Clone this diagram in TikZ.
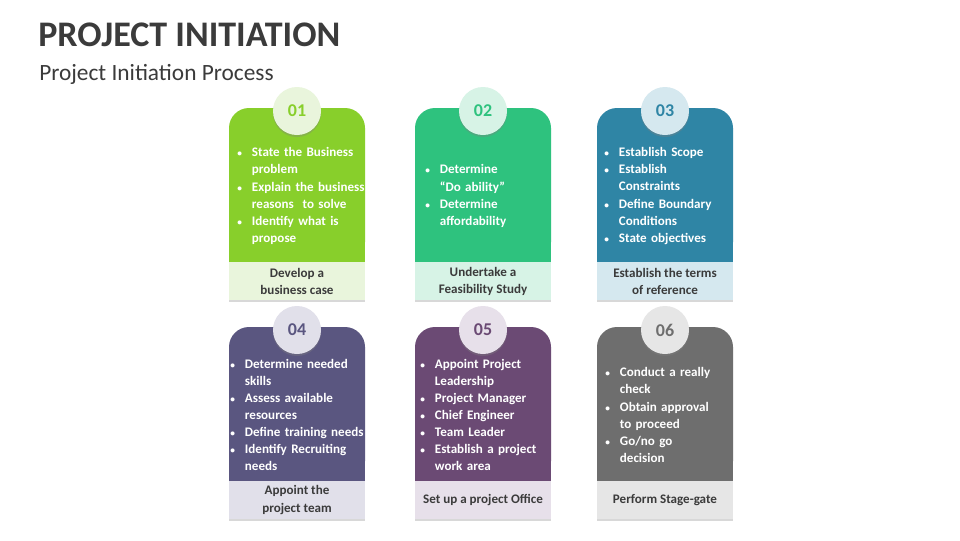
\documentclass[tikz,border=0pt]{standalone}
\usepackage{fontspec}
\setmainfont{Carlito}
\usetikzlibrary{shadows}
\definecolor{cA}{HTML}{88CF2B}\definecolor{lA}{HTML}{E9F5DC}
\definecolor{cB}{HTML}{2EC27E}\definecolor{lB}{HTML}{D7F3E6}
\definecolor{cC}{HTML}{2F85A5}\definecolor{lC}{HTML}{D5E8EF}
\definecolor{cD}{HTML}{5A5680}\definecolor{lD}{HTML}{E1E0EA}
\definecolor{cE}{HTML}{6B4A74}\definecolor{lE}{HTML}{E7E0EA}
\definecolor{cF}{HTML}{6E6E6E}\definecolor{lF}{HTML}{E6E6E6}
\definecolor{ink}{HTML}{3B3B3B}
\tikzset{
 bodytxt/.style={text=white,font=\bfseries\fontsize{9.8}{12.8}\selectfont,align=left,anchor=west,text width=110pt,inner sep=0pt},
 bandtxt/.style={text=ink,font=\bfseries\fontsize{9.8}{12.8}\selectfont,align=center},
 numc/.style={circle,minimum size=36pt,inner sep=0pt,font=\bfseries\fontsize{13.5}{14}\selectfont,drop shadow={opacity=0.35,shadow xshift=0pt,shadow yshift=-1.5pt}},
}
\newcommand{\card}[9]{% x, y, color, light, num, name, body, band, textx
 \fill[#3,rounded corners=15] (#1,#2) -- (#1,#2+154) -- (#1+136,#2+154) -- (#1+136,#2) -- cycle;
 \fill[#3] (#1,#2+100) rectangle (#1+136,#2+154);
 \fill[#4,drop shadow={opacity=0.3,shadow xshift=0pt,shadow yshift=-1.5pt}] (#1,#2+154) rectangle (#1+136,#2+192);
 \node[numc,fill=#4,text=#3] (n#6) at (#1+68,#2+3) {#5};
 \node[bodytxt] (b#6) at (#1+#9,#2+88) {#7};
 \node[bandtxt] (t#6) at (#1+68,#2+173) {#8};
}
\newcommand{\bl}{\makebox[11pt][l]{\scriptsize\textbullet}}
\newcommand{\ii}{\hspace*{11pt}}
\begin{document}
\begin{tikzpicture}[x=0.75pt,y=-0.75pt]
\useasboundingbox (0,0) rectangle (960,540);
\fill[white] (0,0) rectangle (960,540);
\node[anchor=west,inner sep=0pt,text=ink,font=\bfseries\fontsize{27}{30}\selectfont] (title) at (38,35) {PROJECT INITIATION};
\node[anchor=west,inner sep=0pt,text=ink,font=\fontsize{17.5}{20}\selectfont] (sub) at (39,74) {Project Initiation Process};
\card{229}{108}{cA}{lA}{01}{a}{\bl State the Business\\\ii problem\\\bl Explain the business\\\ii reasons\ \ to solve\\\bl Identify what is\\\ii propose}{Develop a\\business case}{8}
\card{415}{108}{cB}{lB}{02}{b}{\bl Determine\\\ii “Do ability”\\\bl Determine\\\ii affordability}{Undertake a\\Feasibility Study}{10}
\card{597}{108}{cC}{lC}{03}{c}{\bl Establish Scope\\\bl Establish\\\ii Constraints\\\bl Define Boundary\\\ii Conditions\\\bl State objectives}{Establish the terms\\of reference}{7}
\card{229}{327}{cD}{lD}{04}{d}{\bl Determine needed\\\ii skills\\\bl Assess available\\\ii resources\\\bl Define training needs\\\bl Identify Recruiting\\\ii needs}{Appoint the\\project team}{1}
\card{415}{327}{cE}{lE}{05}{e}{\bl Appoint Project\\\ii Leadership\\\bl Project Manager\\\bl Chief Engineer\\\bl Team Leader\\\bl Establish a project\\\ii work area}{Set up a project Office}{5}
\card{597}{327}{cF}{lF}{06}{f}{\bl Conduct a really\\\ii check\\\bl Obtain approval\\\ii to proceed\\\bl Go/no go\\\ii decision}{Perform Stage-gate}{8}
\end{tikzpicture}
\end{document}
